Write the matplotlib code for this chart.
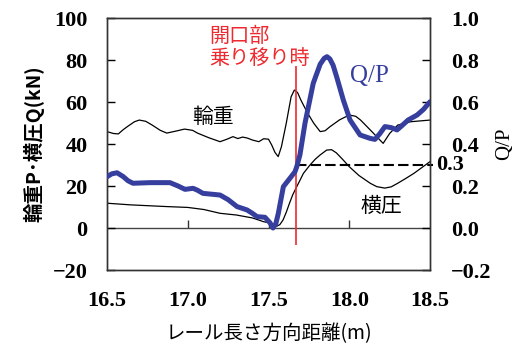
import matplotlib
matplotlib.use("Agg")
import matplotlib.pyplot as plt

# wheel load P (kN)
P_X = [16.50, 16.54, 16.57, 16.60, 16.63, 16.67, 16.70, 16.74, 16.78, 16.83,
       16.87, 16.93, 16.98, 17.03, 17.06, 17.13, 17.20, 17.24, 17.28, 17.31,
       17.34, 17.37, 17.40, 17.44, 17.47, 17.50, 17.52, 17.54, 17.56, 17.58,
       17.61, 17.64, 17.66, 17.68, 17.70, 17.74, 17.78, 17.82, 17.85, 17.88,
       17.94, 18.00, 18.04, 18.07, 18.13, 18.19, 18.21, 18.25, 18.30, 18.38,
       18.44, 18.50]
P_VAL = [45.9, 45.0, 44.8, 46.8, 48.5, 50.6, 51.4, 50.8, 49.0, 46.5,
         45.2, 46.2, 47.1, 46.5, 45.2, 43.0, 41.1, 42.2, 43.5, 42.6,
         43.3, 42.8, 41.9, 41.1, 42.5, 42.3, 39.5, 36.0, 34.0, 38.7,
         49.9, 62.5, 65.7, 64.5, 61.0, 55.0, 49.9, 45.9, 46.3, 48.2,
         51.5, 53.8, 53.2, 51.4, 46.7, 41.9, 40.3, 45.0, 49.0, 50.6,
         51.0, 51.4]

# lateral force Q (kN)
Q_X = [16.50, 16.65, 16.87, 17.00, 17.10, 17.20, 17.30, 17.40, 17.47, 17.52,
       17.55, 17.57, 17.59, 17.61, 17.63, 17.65, 17.675, 17.70, 17.716, 17.757,
       17.79, 17.82, 17.86, 17.89, 17.92, 17.96, 18.00, 18.06, 18.13, 18.17,
       18.22, 18.26, 18.30, 18.35, 18.40, 18.45, 18.50]
Q_VAL = [11.8, 11.0, 10.2, 9.8, 8.8, 7.0, 6.2, 4.8, 3.0, 2.2,
         0.8, 1.6, 3.8, 7.5, 11.8, 15.8, 19.7, 23.5, 26.0, 30.0,
         32.8, 34.8, 37.1, 37.3, 35.8, 32.6, 29.2, 25.0, 21.3, 19.7,
         19.0, 19.6, 21.3, 23.6, 26.0, 28.8, 31.6]

# derailment coefficient Q/P
QP_X = [16.500, 16.530, 16.562, 16.600, 16.630, 16.661, 16.766, 16.890, 16.940, 16.983,
        17.033, 17.060, 17.094, 17.200, 17.250, 17.305, 17.367, 17.400, 17.429, 17.478,
        17.509, 17.528, 17.545, 17.561, 17.592, 17.633, 17.664, 17.675, 17.695, 17.726,
        17.777, 17.820, 17.845, 17.862, 17.880, 17.900, 17.922, 17.963, 18.005, 18.067,
        18.128, 18.159, 18.190, 18.221, 18.260, 18.296, 18.330, 18.364, 18.420, 18.460,
        18.500]
QP_VAL = [0.244, 0.258, 0.263, 0.245, 0.225, 0.213, 0.216, 0.216, 0.200, 0.184,
          0.189, 0.180, 0.165, 0.157, 0.135, 0.102, 0.086, 0.070, 0.054, 0.051,
          0.025, 0.000, 0.020, 0.070, 0.197, 0.237, 0.268, 0.292, 0.350, 0.499,
          0.689, 0.780, 0.808, 0.816, 0.805, 0.775, 0.720, 0.610, 0.514, 0.443,
          0.427, 0.422, 0.450, 0.483, 0.478, 0.467, 0.490, 0.514, 0.538, 0.565,
          0.601]

X_TICKS = [16.5, 17.0, 17.5, 18.0, 18.5]
QP_TICKS = [-0.2, 0.0, 0.2, 0.4, 0.6, 0.8, 1.0]
TRANSFER_X = 17.67      # position where the wheel crosses the opening
TRANSFER_SPAN = (-8, 77)
QP_REF = 0.3

JP = ["Noto Sans CJK JP", "DejaVu Sans"]
SERIF = ["Liberation Serif", "DejaVu Serif"]
BLUE = "#363f9e"
RED = "#ee2a30"

plt.rcParams["font.family"] = SERIF
plt.rcParams["axes.unicode_minus"] = True

fig = plt.figure(figsize=(5.22, 3.47), dpi=100)
ax = fig.add_axes([107 / 522, 1 - 270 / 347, 323 / 522, 252 / 347])
ax2 = ax.twinx()

ax.set_xlim(16.5, 18.5)
ax.set_ylim(-20, 100)
ax2.set_ylim(-0.2, 1.0)

ax.axhline(0, color="#444444", lw=1.0, zorder=1)
ax.plot(P_X, P_VAL, color="black", lw=0.9, zorder=2)
ax.plot(Q_X, Q_VAL, color="black", lw=0.9, zorder=2)
ax.vlines(TRANSFER_X, *TRANSFER_SPAN, color=RED, lw=1.2, zorder=3)
ax2.hlines(QP_REF, TRANSFER_X, 18.52, color="black", lw=1.5,
           linestyles=(0, (5, 2)), clip_on=False, zorder=2)
ax2.plot(QP_X, QP_VAL, color=BLUE, lw=3.6, solid_capstyle="round",
         solid_joinstyle="round", zorder=4)

# axes frame and ticks
for a in (ax, ax2):
    for s in a.spines.values():
        s.set_color("#333333")
        s.set_linewidth(1.0)
ax.set_xticks(X_TICKS)
ax.set_xticklabels([f"{v:.1f}" for v in X_TICKS], fontweight="bold")
ax.tick_params(axis="x", length=0, labelsize=16, pad=15)
ax.set_yticks(range(-20, 101, 20))
ax.set_yticklabels([f"{v}".replace("-", "\u2212") for v in range(-20, 101, 20)],
                   fontweight="bold")
ax.tick_params(axis="y", direction="in", length=6, width=1, labelsize=16, pad=14)
ax2.set_yticks(QP_TICKS)
ax2.set_yticklabels([f"{v:.1f}".replace("-", "\u2212") for v in QP_TICKS],
                    fontweight="bold")
ax2.tick_params(axis="y", direction="in", length=6, width=1, labelsize=16, pad=15)

# distance ticks sit on the zero line
zero_axis = ax.secondary_xaxis(20 / 120)
zero_axis.set_xticks([17.0, 17.5, 18.0])
zero_axis.tick_params(direction="in", length=6, width=1, labelbottom=False, color="#333333")
zero_axis.spines["bottom"].set_visible(False)

ax.text(1.018, (QP_REF + 0.2) / 1.2, "0.3", transform=ax.transAxes,
        fontsize=16, fontweight="bold", ha="left", va="center")

# labels
ax.set_xlabel("レール長さ方向距離(m)", family=JP, fontsize=14, labelpad=9)
ax.set_ylabel("輪重P･横圧Q(kN)", family=JP, fontsize=14, fontweight="bold", labelpad=6)
ax2.set_ylabel("Q/P", fontsize=15, labelpad=3)

ax.text(17.156, 52.9, "輪重", family=JP, fontsize=15, ha="center", va="center")
ax.text(18.197, 10.5, "横圧", family=JP, fontsize=15, ha="center", va="center")
ax.text(18.128, 72.4, "Q/P", color=BLUE, fontsize=18, ha="center", va="center")
ax.text(17.132, 86.0, "開口部\n乗り移り時", family=JP, color=RED, fontsize=14.5,
        ha="left", va="center", linespacing=1.05)

fig.savefig("out.png", dpi=100)
